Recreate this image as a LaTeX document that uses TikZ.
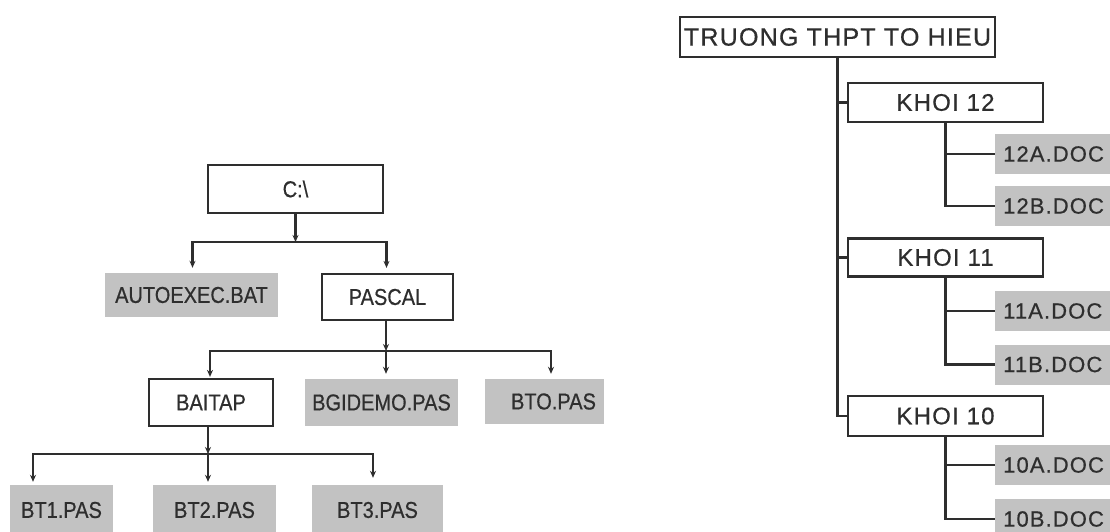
\documentclass[tikz,border=0pt]{standalone}
\usepackage{fontspec}
\usetikzlibrary{arrows.meta}
\newfontfamily\lfont[FakeStretch=0.87,FakeBold=0.6]{Liberation Sans}
\newfontfamily\rfont[LetterSpace=5,FakeBold=0.6]{Liberation Sans}
\definecolor{inkc}{gray}{0.18}
\definecolor{boxgray}{gray}{0.76}
\tikzset{
  lbox/.style={draw=inkc, line width=2.2pt, fill=white, text=inkc, inner sep=0pt,
    font=\lfont\fontsize{23}{26}\selectfont},
  lfile/.style={fill=boxgray, text=inkc, inner sep=0pt,
    font=\lfont\fontsize{23}{26}\selectfont},
  rbox/.style={draw=inkc, line width=2.2pt, fill=white, text=inkc, inner sep=0pt,
    font=\rfont\fontsize{24}{27}\selectfont},
  rfile/.style={fill=boxgray, text=inkc, anchor=west, inner xsep=8pt, inner ysep=0pt,
    text width=110pt, align=left, minimum height=40pt,
    font=\rfont\fontsize{22}{25}\selectfont},
  conn/.style={draw=inkc, line width=2.2pt, -{Stealth[length=7pt,width=6pt]}},
  link/.style={draw=inkc, line width=2.2pt},
}
\begin{document}
\begin{tikzpicture}[x=1pt,y=-1pt]
\clip (0,0) rectangle (1110,532);
\fill[white] (0,0) rectangle (1110,532);

% ---- left tree ----
\node[lbox, minimum width=175pt, minimum height=48pt] (croot) at (295.5,189) {C:\textbackslash};
\node[lfile, minimum width=173pt, minimum height=44pt] (auto) at (191.5,295) {AUTOEXEC.BAT};
\node[lbox, minimum width=131pt, minimum height=46pt] (pascal) at (387.5,297) {PASCAL};
\node[lbox, minimum width=124pt, minimum height=47pt] (baitap) at (211,402.5) {BAITAP};
\node[lfile, minimum width=153pt, minimum height=47pt] (bgidemo) at (381.5,402.5) {BGIDEMO.PAS};
\node[lfile, minimum width=119pt, minimum height=45pt] (bto) at (544.5,401.5) {\hspace{18pt}BTO.PAS};
\node[lfile, minimum width=103pt, minimum height=50pt] (bt1) at (61.5,510) {BT1.PAS};
\node[lfile, minimum width=123pt, minimum height=50pt] (bt2) at (214.5,510) {BT2.PAS};
\node[lfile, minimum width=131pt, minimum height=50pt] (bt3) at (377.5,510) {BT3.PAS};

\coordinate (j1) at (295.5,242);
\coordinate (j2) at (386,351);
\coordinate (j3) at (208,454);

\draw[conn] (croot.south) -- (j1);
\draw[conn, shorten >=5pt] (j1) -| ([xshift=1pt]auto.north);
\draw[conn, shorten >=5pt] (j1) -| ([xshift=-1pt]pascal.north);

\draw[conn] ([xshift=-1.5pt]pascal.south) -- (j2);
\draw[conn, shorten >=1pt] (j2) -| ([xshift=-1pt]baitap.north);
\draw[conn, shorten >=5pt] (j2) -- (j2 |- bgidemo.north);
\draw[conn, shorten >=5pt] (j2) -| ([xshift=6.5pt]bto.north);

\draw[conn] ([xshift=-3pt]baitap.south) -- (j3);
\draw[conn, shorten >=3pt] (j3) -| ([xshift=-28.5pt]bt1.north);
\draw[conn, shorten >=3pt] (j3) -- (j3 |- bt2.north);
\draw[conn, shorten >=7pt] (j3) -| ([xshift=-4.5pt]bt3.north);

% ---- right tree ----
\node[rbox, minimum width=315pt, minimum height=40pt, font=\rfont\fontsize{25}{28}\selectfont] (truong) at (837.5,37) {TRUONG THPT TO HIEU};
\node[rbox, minimum width=195pt, minimum height=39pt] (k12) at (945.5,102.5) {KHOI 12};
\node[rbox, minimum width=195pt, minimum height=38pt] (k11) at (945.5,257.5) {KHOI 11};
\node[rbox, minimum width=195pt, minimum height=40pt] (k10) at (945.5,416) {KHOI 10};

\node[rfile] (d12a) at (995,154) {12A.DOC};
\node[rfile] (d12b) at (995,206) {12B.DOC};
\node[rfile] (d11a) at (995,311) {11A.DOC};
\node[rfile] (d11b) at (995,364.5) {11B.DOC};
\node[rfile] (d10a) at (995,465) {10A.DOC};
\node[rfile] (d10b) at (995,519) {10B.DOC};

\draw[link] (truong.south) |- (k10.west);
\draw[link] (truong.south |- k12.west) -- (k12.west);
\draw[link] (truong.south |- k11.west) -- (k11.west);

\draw[link] (k12.south) |- (d12b.west);
\draw[link] (k12.south |- d12a.west) -- (d12a.west);
\draw[link] (k11.south) |- (d11b.west);
\draw[link] (k11.south |- d11a.west) -- (d11a.west);
\draw[link] (k10.south) |- (d10b.west);
\draw[link] (k10.south |- d10a.west) -- (d10a.west);
\end{tikzpicture}
\end{document}
